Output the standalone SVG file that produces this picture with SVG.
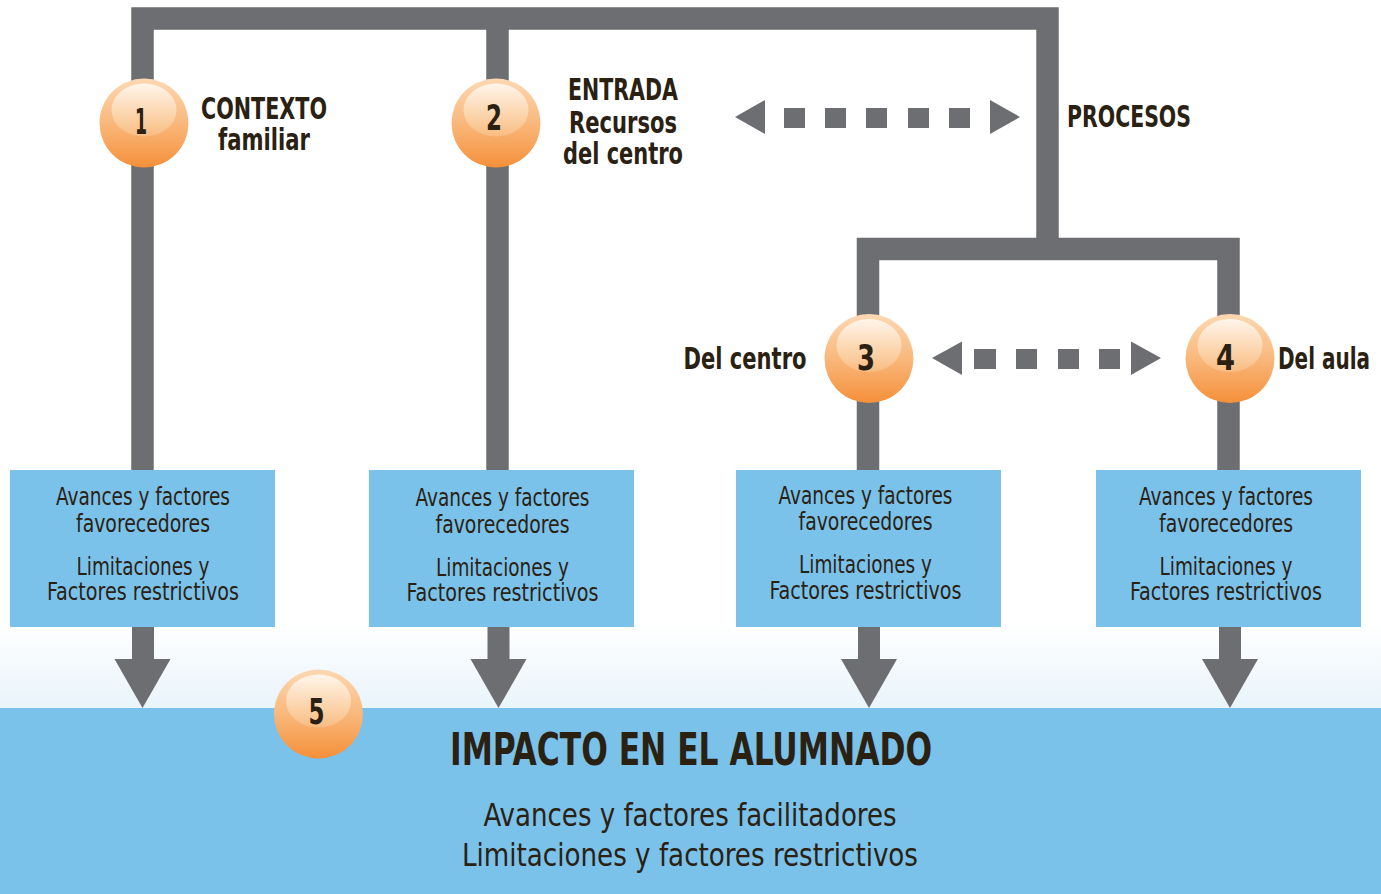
<svg xmlns="http://www.w3.org/2000/svg" width="1381" height="894" viewBox="0 0 1381 894">
<defs>
<linearGradient id="bgfade" x1="0" y1="0" x2="0" y2="1">
<stop offset="0" stop-color="#ffffff"/>
<stop offset="1" stop-color="#e9f4fb"/>
</linearGradient>
<linearGradient id="ball" x1="0" y1="0" x2="0" y2="1">
<stop offset="0" stop-color="#fdd8b3"/>
<stop offset="0.5" stop-color="#f9b87c"/>
<stop offset="1" stop-color="#f5903a"/>
</linearGradient>
<linearGradient id="shine" x1="0" y1="0" x2="0" y2="1">
<stop offset="0" stop-color="#fff7ee" stop-opacity="0.95"/>
<stop offset="1" stop-color="#fbd3a6" stop-opacity="0.4"/>
</linearGradient>
<g id="ballshape">
<circle cx="0" cy="0" r="44.5" fill="url(#ball)"/>
<ellipse cx="0" cy="-13" rx="32.5" ry="26.5" fill="url(#shine)"/>
</g>
</defs>
<style>
.gray{fill:#6d6e71}
.line{fill:none;stroke:#6d6e71;stroke-width:22.5;stroke-linejoin:miter;stroke-linecap:butt}
.box{fill:#7bc2ea}
.t{font-family:"Liberation Sans Narrow","DejaVu Sans Condensed","Liberation Sans",sans-serif;fill:#2a2113;text-anchor:middle}
.lab{font-weight:bold;font-size:30px}
.num{font-weight:bold;font-size:35px}
.bx{font-size:24px;font-weight:300}
.sub{font-size:32px;font-weight:300}
</style>

<rect x="0" y="0" width="1381" height="894" fill="#ffffff"/>
<rect x="0" y="622" width="1381" height="86" fill="url(#bgfade)"/>
<rect id="band" x="0" y="708" width="1381" height="186" class="box"/>

<g id="connectors">
<path class="line" d="M142.5 470 V18.5 H1047.5 V249"/>
<path class="line" d="M497.5 18.5 V470"/>
<path class="line" d="M868 470 V249 H1228.5 V470"/>
<rect class="gray" x="132" y="627" width="22" height="33"/>
<polygon class="gray" points="114.5,659 170.5,659 142.5,708"/>
<rect class="gray" x="487.5" y="627" width="22" height="33"/>
<polygon class="gray" points="470.5,659 526.5,659 498.5,708"/>
<rect class="gray" x="858" y="627" width="22" height="33"/>
<polygon class="gray" points="841,659 897,659 869,708"/>
<rect class="gray" x="1219" y="627" width="22" height="33"/>
<polygon class="gray" points="1202,659 1258,659 1230,708"/>
<g id="dash1" class="gray">
<polygon points="735,117 765,100 765,134"/>
<rect x="784" y="108" width="21" height="20"/>
<rect x="825" y="108" width="21" height="20"/>
<rect x="866" y="108" width="21" height="20"/>
<rect x="908" y="108" width="21" height="20"/>
<rect x="949" y="108" width="21" height="20"/>
<polygon points="1020,117 990,100 990,134"/>
</g>
<g id="dash2" class="gray">
<polygon points="932,358 962,341.5 962,375"/>
<rect x="974" y="349" width="22" height="20"/>
<rect x="1016" y="349" width="21" height="20"/>
<rect x="1058" y="349" width="21" height="20"/>
<rect x="1099" y="349" width="21" height="20"/>
<polygon points="1161,358 1131,341.5 1131,375"/>
</g>
</g>

<g id="node1">
<use href="#ballshape" x="144" y="123"/>
<text class="t num" x="141" y="134" textLength="12" lengthAdjust="spacingAndGlyphs">1</text>
<text class="t lab" x="264" y="119" textLength="126" lengthAdjust="spacingAndGlyphs">CONTEXTO</text>
<text class="t lab" x="264" y="150" textLength="92" lengthAdjust="spacingAndGlyphs">familiar</text>
</g>
<g id="node2">
<use href="#ballshape" x="496" y="123"/>
<text class="t num" x="494" y="130" textLength="16" lengthAdjust="spacingAndGlyphs">2</text>
<text class="t lab" x="623" y="100" textLength="110" lengthAdjust="spacingAndGlyphs">ENTRADA</text>
<text class="t lab" x="623" y="133" textLength="108" lengthAdjust="spacingAndGlyphs">Recursos</text>
<text class="t lab" x="623" y="164" textLength="120" lengthAdjust="spacingAndGlyphs">del centro</text>
</g>
<g id="procesos">
<text class="t lab" x="1129" y="127" textLength="124" lengthAdjust="spacingAndGlyphs">PROCESOS</text>
</g>
<g id="node3">
<use href="#ballshape" x="869" y="358.5"/>
<text class="t num" x="866" y="370" textLength="18" lengthAdjust="spacingAndGlyphs">3</text>
<text class="t lab" x="745" y="368.5" textLength="123" lengthAdjust="spacingAndGlyphs">Del centro</text>
</g>
<g id="node4">
<use href="#ballshape" x="1230" y="358.5"/>
<text class="t num" x="1225.5" y="370" textLength="19" lengthAdjust="spacingAndGlyphs">4</text>
<text class="t lab" x="1324" y="368.5" textLength="92" lengthAdjust="spacingAndGlyphs">Del aula</text>
</g>

<g id="box1">
<rect class="box" x="10" y="470" width="265" height="157"/>
<text class="t bx" x="143" y="505" textLength="174" lengthAdjust="spacingAndGlyphs">Avances y factores</text>
<text class="t bx" x="143" y="531.5" textLength="134" lengthAdjust="spacingAndGlyphs">favorecedores</text>
<text class="t bx" x="143" y="575" textLength="133" lengthAdjust="spacingAndGlyphs">Limitaciones y</text>
<text class="t bx" x="143" y="600" textLength="192" lengthAdjust="spacingAndGlyphs">Factores restrictivos</text>
</g>
<g id="box2">
<rect class="box" x="369" y="470" width="265" height="157"/>
<text class="t bx" x="502.5" y="506" textLength="174" lengthAdjust="spacingAndGlyphs">Avances y factores</text>
<text class="t bx" x="502.5" y="532.5" textLength="134" lengthAdjust="spacingAndGlyphs">favorecedores</text>
<text class="t bx" x="502.5" y="576" textLength="133" lengthAdjust="spacingAndGlyphs">Limitaciones y</text>
<text class="t bx" x="502.5" y="601" textLength="192" lengthAdjust="spacingAndGlyphs">Factores restrictivos</text>
</g>
<g id="box3">
<rect class="box" x="736" y="470" width="265" height="157"/>
<text class="t bx" x="865.5" y="503.5" textLength="174" lengthAdjust="spacingAndGlyphs">Avances y factores</text>
<text class="t bx" x="865.5" y="529.5" textLength="134" lengthAdjust="spacingAndGlyphs">favorecedores</text>
<text class="t bx" x="865.5" y="573" textLength="133" lengthAdjust="spacingAndGlyphs">Limitaciones y</text>
<text class="t bx" x="865.5" y="598.5" textLength="192" lengthAdjust="spacingAndGlyphs">Factores restrictivos</text>
</g>
<g id="box4">
<rect class="box" x="1096" y="470" width="265" height="157"/>
<text class="t bx" x="1226" y="505" textLength="174" lengthAdjust="spacingAndGlyphs">Avances y factores</text>
<text class="t bx" x="1226" y="531.5" textLength="134" lengthAdjust="spacingAndGlyphs">favorecedores</text>
<text class="t bx" x="1226" y="575" textLength="133" lengthAdjust="spacingAndGlyphs">Limitaciones y</text>
<text class="t bx" x="1226" y="600" textLength="192" lengthAdjust="spacingAndGlyphs">Factores restrictivos</text>
</g>

<g id="node5">
<use href="#ballshape" x="318.5" y="714"/>
<text class="t num" x="316.5" y="723.5" textLength="16" lengthAdjust="spacingAndGlyphs">5</text>
</g>
<g id="impacto">
<text class="t" x="691" y="765" font-size="44" font-weight="bold" textLength="482" lengthAdjust="spacingAndGlyphs">IMPACTO EN EL ALUMNADO</text>
<text class="t sub" x="690" y="826" textLength="413" lengthAdjust="spacingAndGlyphs">Avances y factores facilitadores</text>
<text class="t sub" x="690" y="866" textLength="456" lengthAdjust="spacingAndGlyphs">Limitaciones y factores restrictivos</text>
</g>
</svg>
